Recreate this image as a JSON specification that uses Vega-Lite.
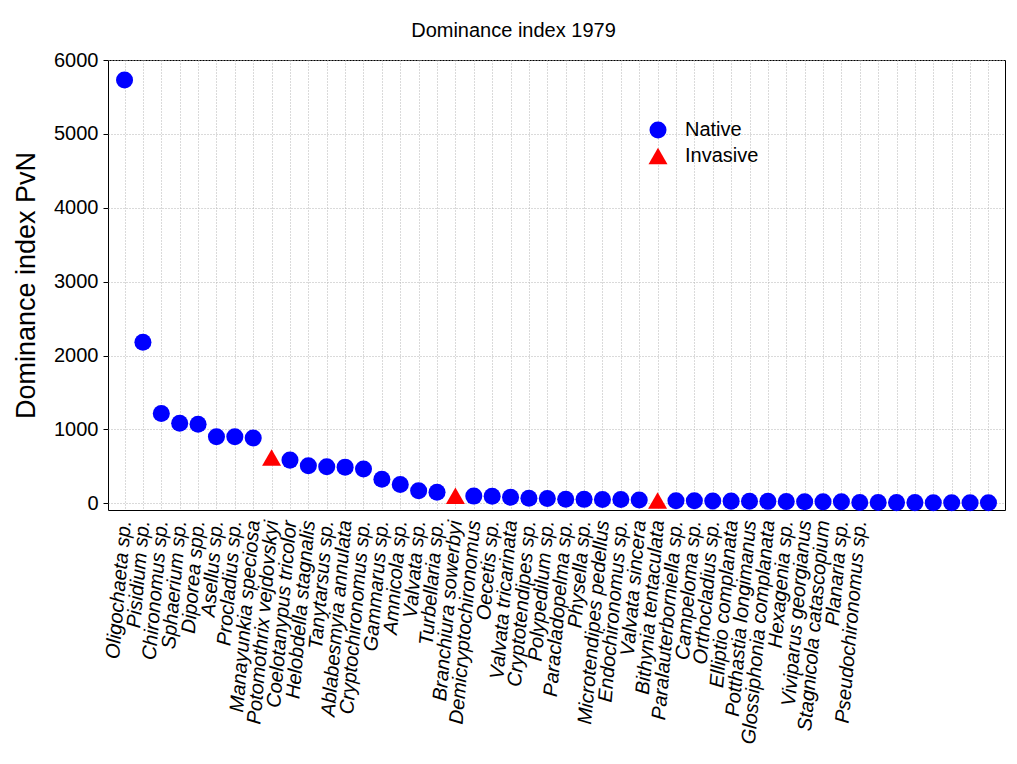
{
  "$schema": "https://vega.github.io/schema/vega-lite/v6.json",
  "autosize": {"type": "none"},
  "width": 897,
  "height": 450,
  "padding": {"left": 108, "top": 60, "right": 12, "bottom": 254},
  "background": "white",
  "config": {
    "font": "Liberation Sans",
    "view": {"stroke": "#000000", "strokeWidth": 1},
    "axis": {
      "grid": true,
      "gridColor": "#b4b4b4",
      "gridDash": [1, 2],
      "gridWidth": 1,
      "domain": false,
      "labelColor": "#000000",
      "titleColor": "#000000",
      "tickColor": "#000000"
    }
  },
  "title": {
    "text": "Dominance index 1979",
    "fontSize": 20,
    "fontWeight": "normal",
    "color": "#000000",
    "anchor": "middle",
    "frame": "group",
    "dx": -43,
    "dy": 32,
    "baseline": "alphabetic",
    "offset": 25
  },
  "data": {
    "values": [
      {"taxon": "Oligochaeta sp.", "pvn": 5730, "status": "Native"},
      {"taxon": "Pisidium sp.", "pvn": 2180, "status": "Native"},
      {"taxon": "Chironomus sp.", "pvn": 1215, "status": "Native"},
      {"taxon": "Sphaerium sp.", "pvn": 1085, "status": "Native"},
      {"taxon": "Diporea spp.", "pvn": 1070, "status": "Native"},
      {"taxon": "Asellus sp.", "pvn": 900, "status": "Native"},
      {"taxon": "Procladius sp.", "pvn": 900, "status": "Native"},
      {"taxon": "Manayunkia speciosa", "pvn": 885, "status": "Native"},
      {"taxon": "Potomothrix vejdovskyi", "pvn": 620, "status": "Invasive"},
      {"taxon": "Coelotanypus tricolor", "pvn": 585, "status": "Native"},
      {"taxon": "Helobdella stagnalis", "pvn": 510, "status": "Native"},
      {"taxon": "Tanytarsus sp.", "pvn": 495, "status": "Native"},
      {"taxon": "Ablabesmyia annulata", "pvn": 490, "status": "Native"},
      {"taxon": "Cryptochironomus sp.", "pvn": 465, "status": "Native"},
      {"taxon": "Gammarus sp.", "pvn": 325, "status": "Native"},
      {"taxon": "Amnicola sp.", "pvn": 255, "status": "Native"},
      {"taxon": "Valvata sp.", "pvn": 170, "status": "Native"},
      {"taxon": "Turbellaria sp.", "pvn": 150, "status": "Native"},
      {"taxon": "Branchiura sowerbyi", "pvn": 103, "status": "Invasive"},
      {"taxon": "Demicryptochironomus", "pvn": 98, "status": "Native"},
      {"taxon": "Oecetis sp.", "pvn": 95, "status": "Native"},
      {"taxon": "Valvata tricarinata", "pvn": 82, "status": "Native"},
      {"taxon": "Cryptotendipes sp.", "pvn": 68, "status": "Native"},
      {"taxon": "Polypedilum sp.", "pvn": 65, "status": "Native"},
      {"taxon": "Paracladopelma sp.", "pvn": 55, "status": "Native"},
      {"taxon": "Physella sp.", "pvn": 54, "status": "Native"},
      {"taxon": "Microtendipes pedellus", "pvn": 53, "status": "Native"},
      {"taxon": "Endochironomus sp.", "pvn": 52, "status": "Native"},
      {"taxon": "Valvata sincera", "pvn": 45, "status": "Native"},
      {"taxon": "Bithynia tentaculata", "pvn": 38, "status": "Invasive"},
      {"taxon": "Paralauterborniella sp.", "pvn": 36, "status": "Native"},
      {"taxon": "Campeloma sp.", "pvn": 34, "status": "Native"},
      {"taxon": "Orthocladius sp.", "pvn": 31, "status": "Native"},
      {"taxon": "Elliptio complanata", "pvn": 30, "status": "Native"},
      {"taxon": "Potthastia longimanus", "pvn": 29, "status": "Native"},
      {"taxon": "Glossiphonia complanata", "pvn": 27, "status": "Native"},
      {"taxon": "Hexagenia sp.", "pvn": 24, "status": "Native"},
      {"taxon": "Viviparus georgianus", "pvn": 23, "status": "Native"},
      {"taxon": "Stagnicola catascopium", "pvn": 22, "status": "Native"},
      {"taxon": "Planaria sp.", "pvn": 21, "status": "Native"},
      {"taxon": "Pseudochironomus sp.", "pvn": 12, "status": "Native"},
      {"taxon": "taxon 42", "pvn": 11, "status": "Native"},
      {"taxon": "taxon 43", "pvn": 10, "status": "Native"},
      {"taxon": "taxon 44", "pvn": 10, "status": "Native"},
      {"taxon": "taxon 45", "pvn": 9, "status": "Native"},
      {"taxon": "taxon 46", "pvn": 9, "status": "Native"},
      {"taxon": "taxon 47", "pvn": 8, "status": "Native"},
      {"taxon": "taxon 48", "pvn": 8, "status": "Native"}
    ]
  },
  "mark": {"type": "point", "filled": true, "opacity": 1, "strokeWidth": 0},
  "encoding": {
    "x": {
      "field": "taxon",
      "type": "nominal",
      "sort": null,
      "scale": {"type": "point", "padding": 0.9},
      "axis": {
        "title": null,
        "ticks": false,
        "labelAngle": -85,
        "labelFontSize": 20,
        "labelFontStyle": "italic",
        "labelPadding": 10,
        "labelLimit": 400,
        "labelOverlap": false,
        "labelBound": false,
        "labelExpr": "test(/^taxon [0-9]+$/, datum.label) ? '' : datum.label"
      }
    },
    "y": {
      "field": "pvn",
      "type": "quantitative",
      "scale": {"domain": [-90, 6000], "nice": false, "zero": false},
      "axis": {
        "title": "Dominance index PvN",
        "titleFontSize": 27,
        "titleFontWeight": "normal",
        "titlePadding": 13,
        "values": [0, 1000, 2000, 3000, 4000, 5000, 6000],
        "format": "d",
        "labelFontSize": 20,
        "tickSize": 5,
        "labelPadding": 5
      }
    },
    "color": {
      "field": "status",
      "type": "nominal",
      "scale": {"domain": ["Native", "Invasive"], "range": ["#0000ff", "#ff0000"]},
      "legend": {
        "title": null,
        "orient": "none",
        "legendX": 540,
        "legendY": 60,
        "labelFontSize": 20,
        "labelColor": "#000000",
        "symbolSize": 330,
        "symbolStrokeWidth": 0,
        "labelOffset": 17,
        "rowPadding": 6
      }
    },
    "shape": {
      "field": "status",
      "type": "nominal",
      "scale": {"domain": ["Native", "Invasive"], "range": ["circle", "triangle-up"]}
    },
    "size": {
      "field": "status",
      "type": "nominal",
      "scale": {"domain": ["Native", "Invasive"], "range": [290, 360]},
      "legend": null
    }
  }
}
